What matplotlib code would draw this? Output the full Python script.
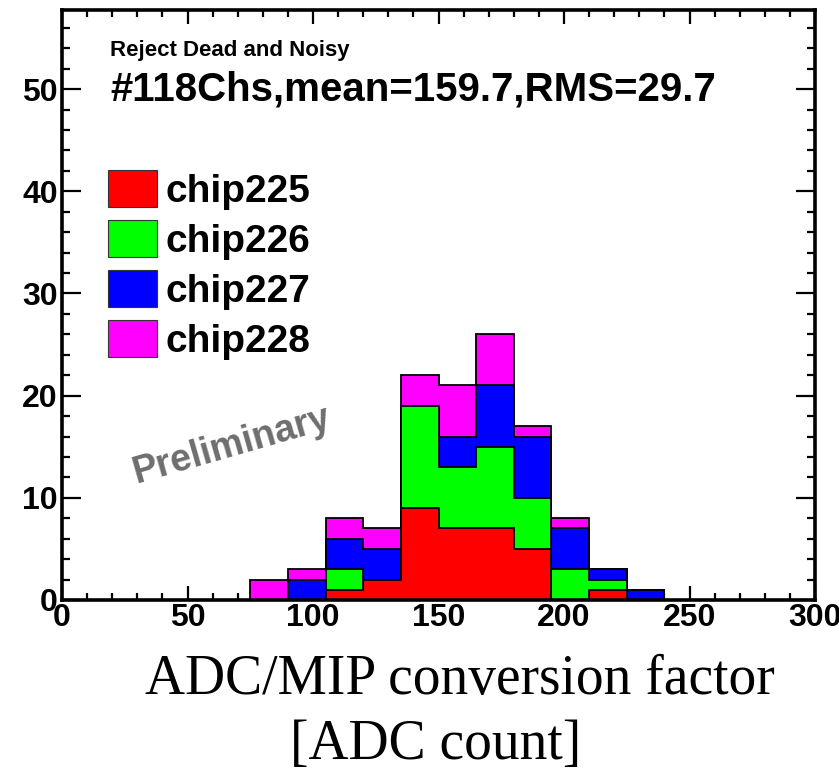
"""
ADC/MIP conversion factor: stacked histogram of four chips
"""

import matplotlib
matplotlib.use("Agg")
import numpy as np
from matplotlib import pyplot as plt
from matplotlib.patches import Patch
from matplotlib.ticker import MultipleLocator

# bin edges (ADC count), bin width 15
bin_edges = [75, 90, 105, 120, 135, 150, 165, 180, 195, 210, 225, 240]

# counts per bin for each chip
chip225 = [0, 0, 1, 2, 9, 7, 7, 5, 0, 1, 0]
chip226 = [0, 0, 2, 0, 10, 6, 8, 5, 3, 1, 0]
chip227 = [0, 2, 3, 3, 0, 3, 6, 6, 4, 1, 1]
chip228 = [2, 1, 2, 2, 3, 5, 5, 1, 1, 0, 0]

chip_names = ["chip225", "chip226", "chip227", "chip228"]
chip_colors = ["#ff0000", "#00ff00", "#0000ff", "#ff00ff"]

x_ticks = [0, 50, 100, 150, 200, 250, 300]
y_ticks = [0, 10, 20, 30, 40, 50]

info_text = "#118Chs,mean=159.7,RMS=29.7"
cut_text = "Reject Dead and Noisy"
xlabel_line1 = "ADC/MIP conversion factor"
xlabel_line2 = "[ADC count]"

SANS = ["Liberation Sans", "DejaVu Sans"]
SERIF = ["Liberation Serif", "DejaVu Serif"]


def draw():
    plt.rcParams["font.family"] = SANS

    fig = plt.figure(figsize=(8.39, 7.81), dpi=100)
    ax = fig.add_axes([0.0739, 0.2318, 0.8975, 0.7554])

    # 累加：和 ROOT THStack 一样，先画最高的，再往下覆盖
    layers = [chip225, chip226, chip227, chip228]
    cum = np.cumsum(np.array(layers), axis=0)
    for k in range(len(layers) - 1, -1, -1):
        ax.stairs(cum[k], bin_edges, baseline=0, fill=True,
                  facecolor=chip_colors[k], edgecolor="black",
                  linewidth=1.3, zorder=2)

    ax.set_xlim(0, 300)
    ax.set_ylim(0, 57.75)
    ax.set_xticks(x_ticks)
    ax.set_yticks(y_ticks)
    ax.xaxis.set_minor_locator(MultipleLocator(10))
    ax.yaxis.set_minor_locator(MultipleLocator(2))
    ax.tick_params(which="both", direction="in", top=True, right=True,
                   width=1.6, color="black")
    ax.tick_params(axis="x", which="major", length=10, pad=2)
    ax.tick_params(axis="x", which="minor", length=5)
    ax.tick_params(axis="y", which="major", length=14, pad=3)
    ax.tick_params(axis="y", which="minor", length=6)
    for lab in ax.get_xticklabels() + ax.get_yticklabels():
        lab.set_fontsize(23)
        lab.set_fontweight("bold")
    for sp in ax.spines.values():
        sp.set_linewidth(2.6)
        sp.set_zorder(5)

    # 文字说明
    ax.text(0.0637, 0.932, cut_text, transform=ax.transAxes,
            fontsize=16, fontweight="bold", va="center", ha="left")
    ax.text(0.0637, 0.866, info_text, transform=ax.transAxes,
            fontsize=29, fontweight="bold", va="center", ha="left")
    ax.text(0.2258, 0.262, "Preliminary", transform=ax.transAxes,
            fontsize=27, fontweight="bold", color="#6e6e6e",
            rotation=16, rotation_mode="anchor", va="center", ha="center")

    # 图例
    handles = [Patch(facecolor=c, edgecolor="#333333", linewidth=0.8)
               for c in chip_colors]
    ax.legend(handles, chip_names, loc="upper left",
              bbox_to_anchor=(0.061, 0.729), frameon=False,
              prop={"size": 28, "weight": "bold"},
              handlelength=1.26, handleheight=1.1, handletextpad=0.23,
              labelspacing=0.26, borderpad=0, borderaxespad=0)

    # x 轴标题（两行）
    fig.text(460 / 839, 1 - 680 / 781, xlabel_line1, family=SERIF,
             fontsize=40, ha="center", va="center")
    fig.text(436 / 839, 1 - 745 / 781, xlabel_line2, family=SERIF,
             fontsize=40, ha="center", va="center")

    fig.savefig("out.png", dpi=100)


if __name__ == '__main__':
    draw()
